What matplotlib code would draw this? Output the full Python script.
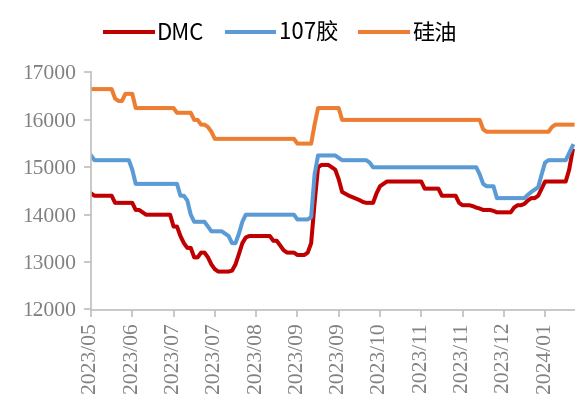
import matplotlib
matplotlib.use("Agg")
import matplotlib.pyplot as plt
from matplotlib.ticker import FixedLocator

tick_labels = ["2023/05", "2023/06", "2023/07", "2023/07", "2023/08", "2023/09",
               "2023/09", "2023/10", "2023/11", "2023/11", "2023/12", "2024/01"]
points_per_tick = 12

dmc = [14450, 14400, 14400, 14400, 14400, 14400, 14400, 14250, 14250, 14250,
       14250, 14250, 14250, 14100, 14100, 14050, 14000, 14000, 14000, 14000,
       14000, 14000, 14000, 14000, 13750, 13750, 13550, 13400, 13300, 13300,
       13100, 13100, 13200, 13200, 13100, 12950, 12850, 12800, 12800, 12800,
       12800, 12820, 12950, 13170, 13400, 13520, 13550, 13550, 13550, 13550,
       13550, 13550, 13550, 13450, 13450, 13350, 13250, 13200, 13200, 13200,
       13150, 13150, 13150, 13200, 13400, 14250, 15000, 15050, 15050, 15050,
       15000, 14950, 14750, 14480, 14440, 14400, 14370, 14340, 14310, 14270,
       14250, 14250, 14250, 14450, 14600, 14650, 14700, 14700, 14700, 14700,
       14700, 14700, 14700, 14700, 14700, 14700, 14700, 14550, 14550, 14550,
       14550, 14550, 14400, 14400, 14400, 14400, 14400, 14250, 14200, 14200,
       14200, 14180, 14150, 14130, 14100, 14100, 14100, 14080, 14050, 14050,
       14050, 14050, 14050, 14150, 14200, 14200, 14230, 14300, 14350, 14350,
       14400, 14550, 14700, 14700, 14700, 14700, 14700, 14700, 14700, 14950,
       15350]

glue107 = [15250, 15150, 15150, 15150, 15150, 15150, 15150, 15150, 15150, 15150,
           15150, 15150, 14950, 14650, 14650, 14650, 14650, 14650, 14650, 14650,
           14650, 14650, 14650, 14650, 14650, 14650, 14400, 14400, 14300, 14000,
           13850, 13850, 13850, 13850, 13750, 13650, 13650, 13650, 13650, 13600,
           13550, 13400, 13400, 13600, 13850, 14000, 14000, 14000, 14000, 14000,
           14000, 14000, 14000, 14000, 14000, 14000, 14000, 14000, 14000, 14000,
           13900, 13900, 13900, 13900, 13950, 14850, 15250, 15250, 15250, 15250,
           15250, 15250, 15200, 15150, 15150, 15150, 15150, 15150, 15150, 15150,
           15150, 15100, 15000, 15000, 15000, 15000, 15000, 15000, 15000, 15000,
           15000, 15000, 15000, 15000, 15000, 15000, 15000, 15000, 15000, 15000,
           15000, 15000, 15000, 15000, 15000, 15000, 15000, 15000, 15000, 15000,
           15000, 15000, 15000, 14850, 14650, 14600, 14600, 14600, 14350, 14350,
           14350, 14350, 14350, 14350, 14350, 14350, 14350, 14420, 14480, 14530,
           14580, 14850, 15100, 15150, 15150, 15150, 15150, 15150, 15150, 15300,
           15450]

silicone_oil = [16650, 16650, 16650, 16650, 16650, 16650, 16650, 16450, 16400, 16400,
                16550, 16550, 16550, 16250, 16250, 16250, 16250, 16250, 16250, 16250,
                16250, 16250, 16250, 16250, 16250, 16150, 16150, 16150, 16150, 16150,
                16000, 16000, 15900, 15900, 15850, 15750, 15600, 15600, 15600, 15600,
                15600, 15600, 15600, 15600, 15600, 15600, 15600, 15600, 15600, 15600,
                15600, 15600, 15600, 15600, 15600, 15600, 15600, 15600, 15600, 15600,
                15500, 15500, 15500, 15500, 15500, 15900, 16250, 16250, 16250, 16250,
                16250, 16250, 16250, 16000, 16000, 16000, 16000, 16000, 16000, 16000,
                16000, 16000, 16000, 16000, 16000, 16000, 16000, 16000, 16000, 16000,
                16000, 16000, 16000, 16000, 16000, 16000, 16000, 16000, 16000, 16000,
                16000, 16000, 16000, 16000, 16000, 16000, 16000, 16000, 16000, 16000,
                16000, 16000, 16000, 16000, 15800, 15750, 15750, 15750, 15750, 15750,
                15750, 15750, 15750, 15750, 15750, 15750, 15750, 15750, 15750, 15750,
                15750, 15750, 15750, 15750, 15850, 15900, 15900, 15900, 15900, 15900,
                15900]

series_names = ["DMC", "107胶", "硅油"]
colors = ["#C00000", "#5B9BD5", "#ED7D31"]

fig = plt.figure(figsize=(5.75, 4.04), dpi=100)
ax = fig.add_axes([91 / 575, 1 - 309.5 / 404, 484 / 575, (309.5 - 72.5) / 404])

x = list(range(len(dmc)))
for vals, name, c in zip([dmc, glue107, silicone_oil], series_names, colors):
    ax.plot(x, vals, color=c, lw=2.9, label=name, solid_joinstyle="round")

ax.set_ylim(12000, 17000)
ax.set_yticks(range(12000, 17001, 1000))
ax.set_xlim(0, len(dmc) - 1 + 0.7)
tick_pos = [i * points_per_tick for i in range(len(tick_labels))]
ax.xaxis.set_major_locator(FixedLocator(tick_pos))
ax.set_xticklabels(tick_labels, rotation=90, fontsize=15.5,
                   family="Liberation Serif", color="#808080")
for lab in ax.get_yticklabels():
    lab.set_fontfamily("Liberation Serif")
    lab.set_fontsize(15.5)
    lab.set_color("#808080")

for s in ["top", "right"]:
    ax.spines[s].set_visible(False)
for s in ["left", "bottom"]:
    ax.spines[s].set_color("#BFBFBF")
    ax.spines[s].set_linewidth(1.2)
ax.tick_params(axis="both", color="#BFBFBF", width=1.2, length=5, direction="out")
ax.tick_params(axis="y", pad=6)
ax.tick_params(axis="x", pad=4)

fig.legend(loc="center", bbox_to_anchor=(281 / 575, 1 - 33 / 404), ncol=3,
           frameon=False, handlelength=2.15, handletextpad=0.2, columnspacing=1.0,
           prop={"family": ["Liberation Sans Narrow", "DejaVu Sans Condensed",
                            "Noto Sans CJK SC"], "size": 16})

fig.savefig("out.png", dpi=100)
